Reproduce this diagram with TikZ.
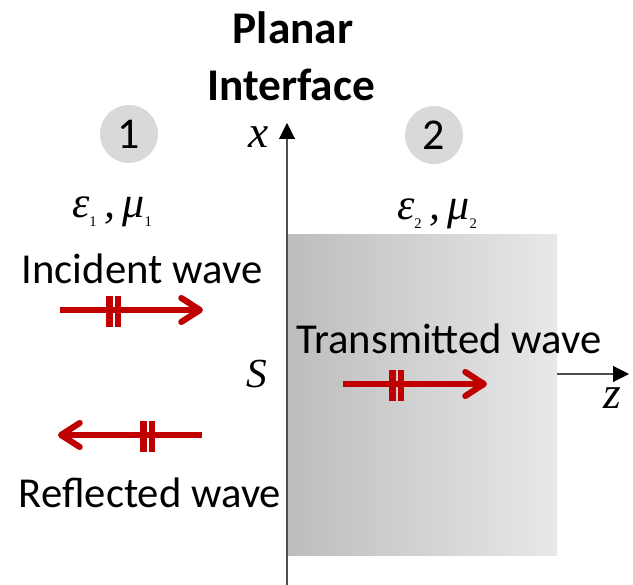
\documentclass[tikz,border=0pt]{standalone}
\usepackage{fontspec}
\setsansfont{Carlito}
\newfontfamily\timesit{Liberation Serif}
\usetikzlibrary{arrows.meta}
\definecolor{wavered}{HTML}{C00000}
\definecolor{medgray}{HTML}{D9D9D9}
\newcommand{\sublow}[1]{\raisebox{-0.45ex}{\upshape\fontsize{11}{11}\selectfont #1}}

\begin{document}
\begin{tikzpicture}[x=0.75pt,y=-0.75pt,
  lbl/.style={font=\sffamily\fontsize{32}{36}\selectfont, inner sep=0pt},
  ttl/.style={font=\sffamily\bfseries\fontsize{34}{38}\selectfont, inner sep=0pt},
  var/.style={font=\timesit\itshape\fontsize{34}{38}\selectfont, inner sep=0pt},
  par/.style={font=\timesit\itshape\fontsize{33}{36}\selectfont, inner sep=0pt},
  medium/.style={circle, fill=medgray, minimum size=43.5pt, inner sep=0pt, font=\sffamily\fontsize{33}{36}\selectfont},
  axis/.style={draw=black!70, line width=0.8pt, -{Triangle[length=12pt,width=12pt,color=black]}},
  wave/.style={draw=wavered, line width=4.6pt, -{Straight Barb[length=14pt,width=18pt,round]}},
  bar/.style={fill=wavered}]
\useasboundingbox (0,0) rectangle (633,585);
% second medium
\shade[left color=black!26, right color=black!9] (287,235) rectangle (557,555);
% axes
\coordinate (xbot) at (287,585);
\coordinate (xtop) at (287,123);
\coordinate (zbeg) at (557,374);
\coordinate (zend) at (629,374);
\draw[axis] (xbot) -- (xtop);
\draw[axis] (zbeg) -- (zend);
\node[var] (xlab) at (259,137) {x};
\node[var] (zlab) at (612,398) {z};
\node[var, font=\timesit\itshape\fontsize{31}{34}\selectfont] (slab) at (257,374) {S};
% title
\node[ttl] (title1) at (293,28) {Planar};
\node[ttl] (title2) at (291,85) {Interface};
% media
\node[medium] (med1) at (129,134) {1};
\node[medium] (med2) at (434,135) {2};
\node[par] (par1) at (112,212) {ε\sublow{1}\,,\,μ\sublow{1}};
\node[par] (par2) at (437,214) {ε\sublow{2}\,,\,μ\sublow{2}};
% waves
\node[lbl] (inc) at (142,269) {Incident wave};
\node[lbl] (tra) at (449,339) {Transmitted wave};
\node[lbl] (ref) at (150,493) {Reflected wave};
\coordinate (inc0) at (60,310);
\coordinate (inc1) at (203,310);
\coordinate (tra0) at (343,384);
\coordinate (tra1) at (487,384);
\coordinate (ref0) at (202,435);
\coordinate (ref1) at (58,435);
\draw[wave] (inc0) -- (inc1);
\draw[wave] (tra0) -- (tra1);
\draw[wave] (ref0) -- (ref1);
\fill[bar] (106,296) rectangle (113,327);
\fill[bar] (115,296) rectangle (121,327);
\fill[bar] (389,370) rectangle (396,401);
\fill[bar] (398,370) rectangle (404,401);
\fill[bar] (140,421) rectangle (147,452);
\fill[bar] (149,421) rectangle (155,452);
\end{tikzpicture}
\end{document}
